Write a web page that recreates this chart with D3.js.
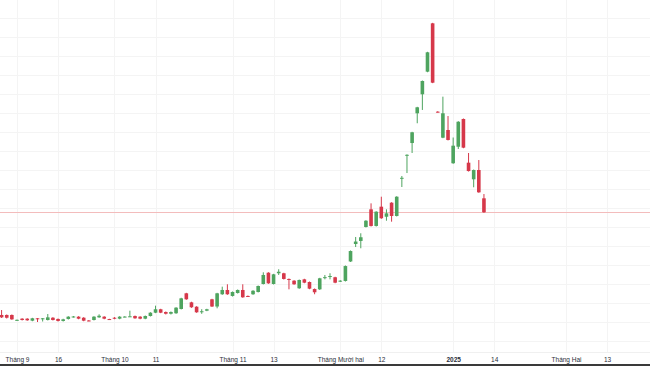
<!DOCTYPE html>
<meta charset="utf-8">
<html>
<head>
	<script src="https://cdn.jsdelivr.net/npm/d3@7/dist/d3.min.js"></script>
	<style>
		body { margin: 0; background: #fff; }
		svg { display: block; }
		.tick text { font-family: "Liberation Sans", Arial, sans-serif; font-size: 6.5px; fill: #2a2e39; }
	</style>
</head>
<body>
	<div id="chart"></div>
	<script>
		// daily candles, index 0 = first bar on the left
		var opens  = [12.74,12.74,12.74,12.18,12.35,12.35,12.14,12.39,12.37,12.21,12.45,12.32,12.11,12.32,12.54,12.56,12.45,12.16,12.21,12.49,
		              12.56,12.31,12.45,12.35,12.55,12.58,12.63,12.56,12.35,12.63,12.98,13.34,13.05,12.87,12.92,13.37,15.02,14.07,13.61,13.07,
		              13.19,14.39,13.63,14.92,15.37,14.74,15.05,15.37,14.74,14.92,15.16,16.00,17.19,16.00,17.13,17.13,16.53,16.35,15.55,16.49,
		              16.21,15.47,15.44,16.68,16.81,16.71,16.26,16.32,18.37,20.21,20.53,22.00,23.86,22.11,24.14,23.08,24.56,23.16,27.11,29.56,
		              30.84,33.97,35.97,38.35,43.44,34.14,31.40,32.21,28.71,30.45,33.37,28.77,27.02,28.00,25.02];
		var highs  = [13.26,12.79,12.79,12.26,12.40,12.40,12.44,12.42,12.42,12.84,12.51,12.37,12.34,12.61,12.63,12.61,12.51,12.21,12.61,12.81,
		              12.61,12.34,12.51,12.61,12.61,13.19,12.68,12.61,12.68,13.03,13.72,13.39,13.11,13.11,13.56,14.55,15.07,14.13,13.66,13.35,
		              13.39,14.44,15.07,15.72,15.97,15.21,15.42,15.97,14.79,15.35,15.84,17.23,17.24,17.07,17.55,17.18,16.58,16.40,16.47,16.55,
		              16.26,15.53,16.65,16.95,17.13,16.76,16.40,17.95,19.53,20.95,21.34,22.72,24.49,23.66,25.19,23.86,24.61,25.24,27.37,29.65,
		              32.02,34.65,37.42,40.44,43.49,34.19,35.72,33.68,31.42,33.14,33.42,29.79,28.05,29.05,25.47];
		var lows   = [12.42,12.37,12.23,12.14,12.16,12.13,12.08,12.00,12.05,12.16,12.16,12.05,12.05,12.26,12.47,12.29,12.08,12.08,12.16,12.44,
		              12.29,12.23,12.29,12.29,12.49,12.53,12.34,12.29,12.29,12.58,12.93,12.93,12.79,12.79,12.86,13.32,14.34,13.49,12.97,12.86,
		              13.14,13.58,13.44,14.86,14.86,14.68,15.00,14.55,14.65,14.86,15.11,15.95,16.02,15.95,16.95,16.47,15.44,15.92,15.49,16.08,
		              15.45,14.92,15.37,16.49,16.49,16.08,16.21,16.26,18.32,19.89,19.76,21.95,22.05,22.05,22.86,22.66,22.56,23.11,26.21,27.68,
		              29.79,32.92,34.32,38.29,37.14,34.05,31.35,31.11,28.65,30.21,30.29,27.84,26.18,25.60,23.49];
		var closes = [12.49,12.45,12.28,12.23,12.21,12.18,12.39,12.37,12.39,12.49,12.21,12.11,12.28,12.56,12.58,12.35,12.14,12.14,12.56,12.66,
		              12.35,12.28,12.35,12.56,12.57,12.60,12.39,12.35,12.63,12.98,13.34,12.98,12.87,13.05,13.51,14.49,14.39,13.55,13.02,13.13,
		              13.34,13.63,15.02,15.37,14.92,15.16,15.37,14.60,14.71,15.29,15.79,16.95,16.07,17.02,17.29,16.53,16.49,15.97,16.42,16.14,
		              15.51,15.13,16.60,16.72,16.84,16.14,16.35,17.89,19.47,20.47,20.92,22.66,22.11,23.61,22.92,23.44,23.16,25.19,27.18,29.60,
		              31.97,34.60,37.37,40.39,37.19,34.11,33.97,31.16,30.56,33.08,30.35,27.89,28.00,25.65,23.55];

		// time axis: bar index of each label (future bars continue the index)
		var tickIdx    = [3, 11, 22, 30, 45, 53, 66, 74, 88, 96, 110, 118];
		var tickLabels = ["Tháng 9", "16", "Tháng 10", "11", "Tháng 11", "13", "Tháng Mười hai", "12", "2025", "14", "Tháng Hai", "13"];
		var gridPrices = d3.range(10, 44.1, 2);

		var width = 650, height = 366;
		var upColor = "#4ea45f", downColor = "#d6384a";
		var bodyWidth = 3.6;

		var svg = d3.select("#chart").append("svg")
			.attr("width", width)
			.attr("height", height);

		var x = d3.scaleLinear().domain([0, 118]).range([1.6, 607.1]);
		var y = d3.scaleLinear().domain([10, 44]).range([341, 18]);

		// grid
		svg.append("g").selectAll("line").data(gridPrices).join("line")
			.attr("x1", 0).attr("x2", width)
			.attr("y1", function(d) { return Math.round(y(d)) + 0.5; })
			.attr("y2", function(d) { return Math.round(y(d)) + 0.5; })
			.attr("stroke", "#f4f4f4");

		svg.append("g").selectAll("line").data(tickIdx).join("line")
			.attr("x1", function(d) { return Math.round(x(d)) + 0.5; })
			.attr("x2", function(d) { return Math.round(x(d)) + 0.5; })
			.attr("y1", 0).attr("y2", 352)
			.attr("stroke", "#f4f4f4");

		// last price line
		var last = closes[closes.length - 1];
		svg.append("line")
			.attr("x1", 0).attr("x2", width)
			.attr("y1", Math.round(y(last)) + 0.5)
			.attr("y2", Math.round(y(last)) + 0.5)
			.attr("stroke", "#f3bcbc");

		// candles
		var candles = svg.append("g").selectAll("g").data(d3.range(opens.length)).join("g");

		candles.append("line")
			.attr("x1", function(i) { return x(i); })
			.attr("x2", function(i) { return x(i); })
			.attr("y1", function(i) { return y(highs[i]); })
			.attr("y2", function(i) { return y(lows[i]); })
			.attr("stroke", function(i) { return closes[i] >= opens[i] ? upColor : downColor; })
			.attr("stroke-width", 1);

		candles.append("rect")
			.attr("x", function(i) { return x(i) - bodyWidth / 2; })
			.attr("width", bodyWidth)
			.attr("y", function(i) { return y(Math.max(opens[i], closes[i])); })
			.attr("height", function(i) { return Math.max(1, Math.abs(y(opens[i]) - y(closes[i]))); })
			.attr("fill", function(i) { return closes[i] >= opens[i] ? upColor : downColor; });

		// time axis
		var axis = svg.append("g")
			.attr("transform", "translate(0,355)")
			.call(d3.axisBottom(x)
				.tickValues(tickIdx)
				.tickFormat(function(d, i) { return tickLabels[i]; })
				.tickSize(0)
				.tickPadding(2));
		axis.select(".domain").remove();
		axis.selectAll(".tick text")
			.style("font-weight", function(d, i) { return tickLabels[i] === "2025" ? "bold" : null; });

		svg.append("line")
			.attr("x1", 0).attr("x2", width)
			.attr("y1", 352.5).attr("y2", 352.5)
			.attr("stroke", "#f0f0f0");

		svg.append("rect")
			.attr("x", 0).attr("y", 364)
			.attr("width", width).attr("height", 2)
			.attr("fill", "#3a3a3a");
	</script>
</body>
</html>
